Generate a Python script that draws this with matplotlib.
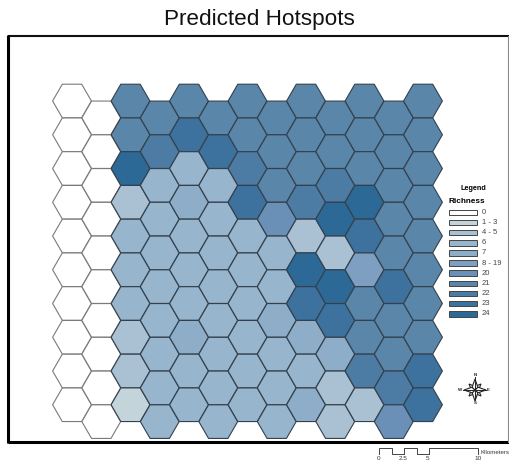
import matplotlib
matplotlib.use("Agg")
import matplotlib.pyplot as plt
from matplotlib.patches import RegularPolygon, Rectangle, Polygon
import numpy as np

plt.rcParams['font.family'] = ['Liberation Sans', 'DejaVu Sans']

legend_labels = ["0", "1 - 3", "4 - 5", "6", "7", "8 - 19", "20", "21", "22", "23", "24"]
legend_colors = ["#ffffff", "#c3d4db", "#a9c1d3", "#97b5cc", "#8dadc8", "#7f9fc2",
                 "#6a90b8", "#5a86a9", "#4c7ca4", "#3d729e", "#2d6996"]

# class index of each hexagon, top to bottom, one list per column
col00 = [0, 0, 0, 0, 0, 0, 0, 0, 0, 0]
col01 = [0, 0, 0, 0, 0, 0, 0, 0, 0, 0]
col02 = [7, 7, 10, 2, 3, 3, 3, 2, 2, 1]
col03 = [7, 8, 3, 3, 3, 3, 3, 3, 3, 3]
col04 = [7, 9, 3, 4, 3, 3, 3, 4, 3, 3]
col05 = [7, 9, 3, 3, 3, 3, 3, 3, 3, 3]
col06 = [7, 7, 8, 9, 3, 3, 3, 3, 3, 3]
col07 = [7, 7, 7, 6, 3, 3, 4, 3, 3, 3]
col08 = [7, 7, 7, 8, 2, 10, 9, 4, 3, 4]
col09 = [7, 7, 8, 10, 2, 10, 9, 4, 2, 2]
col10 = [7, 7, 7, 10, 9, 5, 7, 7, 8, 2]
col11 = [7, 7, 7, 7, 7, 9, 7, 7, 8, 6]
col12 = [7, 7, 7, 7, 7, 7, 7, 7, 9, 9]
columns = [col00, col01, col02, col03, col04, col05, col06,
           col07, col08, col09, col10, col11, col12]

W, H = 509, 462
fig = plt.figure(figsize=(W / 100, H / 100), dpi=100)
ax = fig.add_axes([0, 0, 1, 1])
ax.set_xlim(0, W)
ax.set_ylim(H, 0)
ax.axis("off")

# map frame
ax.plot([8.5, 509], [36, 36], color="#111111", lw=1.5, solid_capstyle="butt")
ax.plot([8.5, 509], [441.5, 441.5], color="#000000", lw=2.2, solid_capstyle="butt")
ax.plot([8.5, 8.5], [35.3, 442.6], color="#000000", lw=2.2, solid_capstyle="butt")
ax.plot([508.3, 508.3], [36, 442], color="#888888", lw=0.8)

# title
ax.text(259, 19.5, "Predicted Hotspots", ha="center", va="center", fontsize=16.2, color="#111111")

# hexagons
x0, dx = 72.0, 29.25
y0, dy = 101.0, 33.75
radius = 19.4
for c, col in enumerate(columns):
    for r, k in enumerate(col):
        x = x0 + c * dx
        y = y0 + r * dy + (dy / 2 if c % 2 else 0)
        edge = "#7a7a7a" if k == 0 else "#33414e"
        ax.add_patch(RegularPolygon((x, y), 6, radius=radius, orientation=np.pi / 6,
                                    facecolor=legend_colors[k], edgecolor=edge,
                                    lw=0.8, zorder=1 if k == 0 else 2))

# legend
ax.text(473.5, 188.5, "Legend", ha="center", va="center", fontsize=5.2, fontweight="bold")
ax.text(449, 201.5, "Richness", ha="left", va="center", fontsize=5.9, fontweight="bold")
for i, (lab, colr) in enumerate(zip(legend_labels, legend_colors)):
    y = 212.3 + i * 10.15
    ax.add_patch(Rectangle((449.5, y - 2.8), 28, 5.6, facecolor=colr, edgecolor="#444444", lw=0.7))
    ax.text(482, y, lab, ha="left", va="center", fontsize=5.5, color="#444444")

# north arrow: a long four-point star over a shorter diagonal one
cx, cy = 475, 390
ax.plot([cx, cx], [cy - 13, cy + 13], color="#222222", lw=0.7)
ax.plot([cx - 13, cx + 13], [cy, cy], color="#222222", lw=0.7)
for start, length, waist in [(np.pi / 4, 8.5, 3.5), (0, 11, 4.0)]:
    for a in start + np.arange(4) * np.pi / 2:
        pts = [(cx + length * np.cos(a), cy + length * np.sin(a)),
               (cx + waist * np.cos(a + 0.8), cy + waist * np.sin(a + 0.8)),
               (cx, cy),
               (cx + waist * np.cos(a - 0.8), cy + waist * np.sin(a - 0.8))]
        ax.add_patch(Polygon(pts, closed=True, facecolor="#ffffff", edgecolor="#222222", lw=0.8))
for s, tx, ty in [("N", cx, cy - 15), ("S", cx, cy + 13.5), ("W", cx - 14.5, cy), ("E", cx + 13.5, cy)]:
    ax.text(tx, ty, s, ha="center", va="center", fontsize=3.2, fontweight="bold", color="#222222",
            bbox=dict(facecolor="white", edgecolor="none", pad=0.2))

# scale bar
scale_x = [379, 379, 392, 392, 404, 404, 417, 417, 429, 429, 478, 478]
scale_y = [454, 448, 448, 454, 454, 448, 448, 454, 454, 448, 448, 454]
ax.plot(scale_x, scale_y, color="#444444", lw=0.7)
for s, tx in [("0", 378.5), ("2.5", 403), ("5", 428), ("10", 478)]:
    ax.text(tx, 459, s, ha="center", va="center", fontsize=4.6, color="#333333")
ax.text(481, 452, "Kilometers", ha="left", va="center", fontsize=4.4, color="#333333")

fig.savefig("out.png", dpi=100)
